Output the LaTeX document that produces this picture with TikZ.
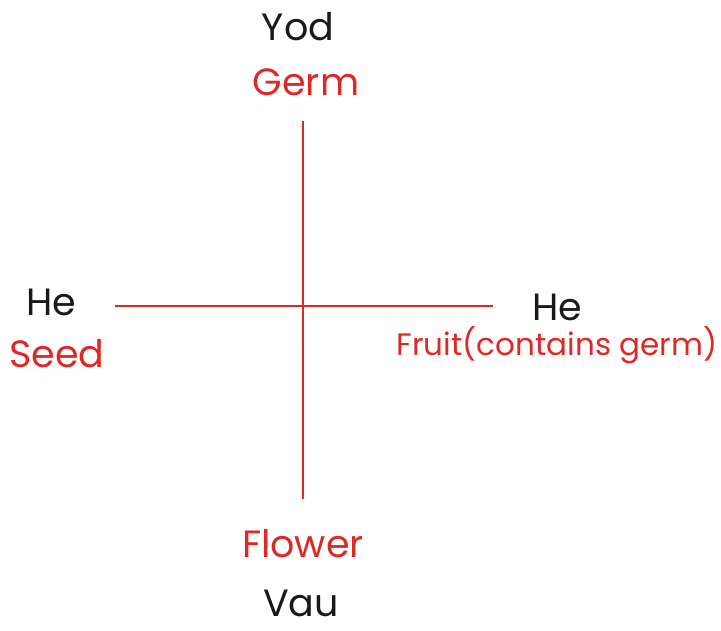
\documentclass[tikz,border=0pt]{standalone}
\usepackage{fontspec}
\setmainfont{Poppins}
\definecolor{cabred}{RGB}{222,40,38}
\definecolor{cabblack}{RGB}{25,25,25}
\tikzset{
  letter/.style={anchor=base, text=cabblack, font=\fontsize{38}{40}\selectfont, inner sep=0pt, text depth=0pt},
  stage/.style={anchor=base, text=cabred, font=\fontsize{38}{40}\selectfont, inner sep=0pt, text depth=0pt},
  axis/.style={cabred, line width=1.2pt}
}
\begin{document}
\begin{tikzpicture}[x=1pt, y=-1pt]
  \useasboundingbox (0,0) rectangle (721,630);

  % Cross
  \coordinate (top) at (303,121);
  \coordinate (bottom) at (303,499);
  \coordinate (left) at (115,306);
  \coordinate (right) at (493,306);
  \draw[axis] (top) -- (bottom);
  \draw[axis] (left) -- (right);

  % Top
  \node[letter] (yod) at (298,40) {Yod};
  \node[stage] (germ) at (306,95) {Germ};

  % Left
  \node[letter] (heleft) at (51,315) {He};
  \node[stage] (seed) at (57,367) {Seed};

  % Right
  \node[letter] (heright) at (557,320) {He};
  \node[stage, font=\fontsize{31}{33}\selectfont] (fruit) at (557,355) {Fruit(contains germ)};

  % Bottom
  \node[stage] (flower) at (303,557) {Flower};
  \node[letter] (vau) at (301,616) {Vau};
\end{tikzpicture}
\end{document}
